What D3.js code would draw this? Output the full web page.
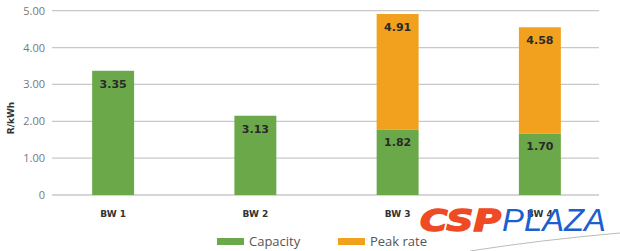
<!doctype html>
<html>
<head>
<script src="https://d3js.org/d3.v7.min.js"></script>
<style>
  body { margin: 0; background: #fff; }
</style>
</head>
<body>
<svg width="620" height="251"></svg>
<script>
    // data
    var categories = ["BW 1", "BW 2", "BW 3", "BW 4"];
    var capacity = [3.37, 2.15, 1.78, 1.67];        // drawn heights of green part
    var peakTop = [null, null, 4.91, 4.55];          // top of stacked orange part
    var capacityLabels = ["3.35", "3.13", "1.82", "1.70"];
    var peakLabels = ["", "", "4.91", "4.58"];
    var yTicks = [0, 1, 2, 3, 4, 5];
    var seriesNames = ["Capacity", "Peak rate"];

    var green = "#6aa84a", orange = "#f1a11e";

    var rows = categories.map(function(c, i) {
        return { cat: c, cap: capacity[i], top: peakTop[i], capLabel: capacityLabels[i], peakLabel: peakLabels[i] };
    });
    var peakRows = rows.filter(function(d) { return d.top != null; });

    var svg = d3.select("svg");

    var x = d3.scaleBand().domain(categories).range([42, 611]).paddingInner(0.705).paddingOuter(0.3525);
    var y = d3.scaleLinear().domain([0, 5]).range([195, 10.7]);

    // grid lines + tick labels
    svg.append("g").selectAll("line")
        .data(yTicks).enter().append("line")
        .attr("x1", 52).attr("x2", 599)
        .attr("y1", function(d) { return y(d); })
        .attr("y2", function(d) { return y(d); })
        .style("stroke", "#c8c8c8")
        .style("stroke-width", 1.3);

    svg.append("g").selectAll("text")
        .data(yTicks).enter().append("text")
        .attr("x", 45)
        .attr("y", function(d) { return y(d) + 4; })
        .attr("text-anchor", "end")
        .style("font-family", "Open Sans, sans-serif")
        .style("font-size", "11px")
        .style("fill", "#777")
        .text(function(d) { return d === 0 ? "0" : d3.format(".2f")(d); });

    // y title
    svg.append("text")
        .attr("transform", "translate(14,118)rotate(-90)")
        .attr("text-anchor", "middle")
        .style("font-family", "DejaVu Sans, sans-serif")
        .style("font-weight", "bold")
        .style("font-size", "9px")
        .style("fill", "#333")
        .text("R/kWh");

    // green bars
    svg.append("g").selectAll("rect")
        .data(rows).enter().append("rect")
        .attr("x", function(d) { return x(d.cat); })
        .attr("width", x.bandwidth())
        .attr("y", function(d) { return y(d.cap); })
        .attr("height", function(d) { return y(0) - y(d.cap); })
        .style("fill", green);

    // orange stacked part
    svg.append("g").selectAll("rect")
        .data(peakRows).enter().append("rect")
        .attr("x", function(d) { return x(d.cat); })
        .attr("width", x.bandwidth())
        .attr("y", function(d) { return y(d.top); })
        .attr("height", function(d) { return y(d.cap) - y(d.top); })
        .style("fill", orange);

    var labelStyle = function(sel) {
        sel.attr("text-anchor", "middle")
           .style("font-family", "DejaVu Sans, sans-serif")
           .style("font-weight", "bold")
           .style("font-size", "11px")
           .style("fill", "#2a2a2a");
    };

    svg.append("g").selectAll("text")
        .data(rows).enter().append("text")
        .attr("x", function(d) { return x(d.cat) + x.bandwidth() / 2; })
        .attr("y", function(d) { return y(d.cap) + 17; })
        .call(labelStyle)
        .text(function(d) { return d.capLabel; });

    svg.append("g").selectAll("text")
        .data(peakRows).enter().append("text")
        .attr("x", function(d) { return x(d.cat) + x.bandwidth() / 2; })
        .attr("y", function(d) { return y(d.top) + 17; })
        .call(labelStyle)
        .text(function(d) { return d.peakLabel; });

    // category labels
    svg.append("g").selectAll("text")
        .data(categories).enter().append("text")
        .attr("x", function(d) { return x(d) + x.bandwidth() / 2; })
        .attr("y", 217)
        .attr("text-anchor", "middle")
        .style("font-family", "DejaVu Sans, sans-serif")
        .style("font-weight", "bold")
        .style("font-size", "9px")
        .style("fill", "#333")
        .text(function(d) { return d; });

    // legend
    var legend = svg.append("g").selectAll("g")
        .data(seriesNames).enter().append("g")
        .attr("transform", function(d, i) { return "translate(" + (217 + i * 121) + ",0)"; });
    legend.append("rect")
        .attr("x", 0).attr("y", 238).attr("width", 27).attr("height", 7)
        .style("fill", function(d, i) { return i === 0 ? green : orange; });
    legend.append("text")
        .attr("x", 32).attr("y", 246)
        .style("font-family", "Open Sans, sans-serif")
        .style("font-size", "13px")
        .style("fill", "#555")
        .text(function(d) { return d; });

    // watermark
    svg.append("path")
        .attr("d", "M470,251 Q540,240 620,233")
        .style("fill", "none")
        .style("stroke", "#bbb")
        .style("stroke-width", 1);
    svg.append("text")
        .attr("x", 420).attr("y", 231)
        .attr("textLength", 81).attr("lengthAdjust", "spacingAndGlyphs")
        .style("font-family", "DejaVu Sans, sans-serif")
        .style("font-weight", "bold")
        .style("font-style", "italic")
        .style("font-size", "31px")
        .style("fill", "#ee4a24")
        .style("stroke", "#ee4a24")
        .style("stroke-width", 1.5)
        .text("CSP");
    svg.append("text")
        .attr("x", 502).attr("y", 231)
        .attr("textLength", 104).attr("lengthAdjust", "spacingAndGlyphs")
        .style("font-family", "Liberation Sans, sans-serif")
        .style("font-style", "italic")
        .style("font-size", "31px")
        .style("fill", "#1c5fcf")
        .text("PLAZA");
</script>
</body>
</html>
